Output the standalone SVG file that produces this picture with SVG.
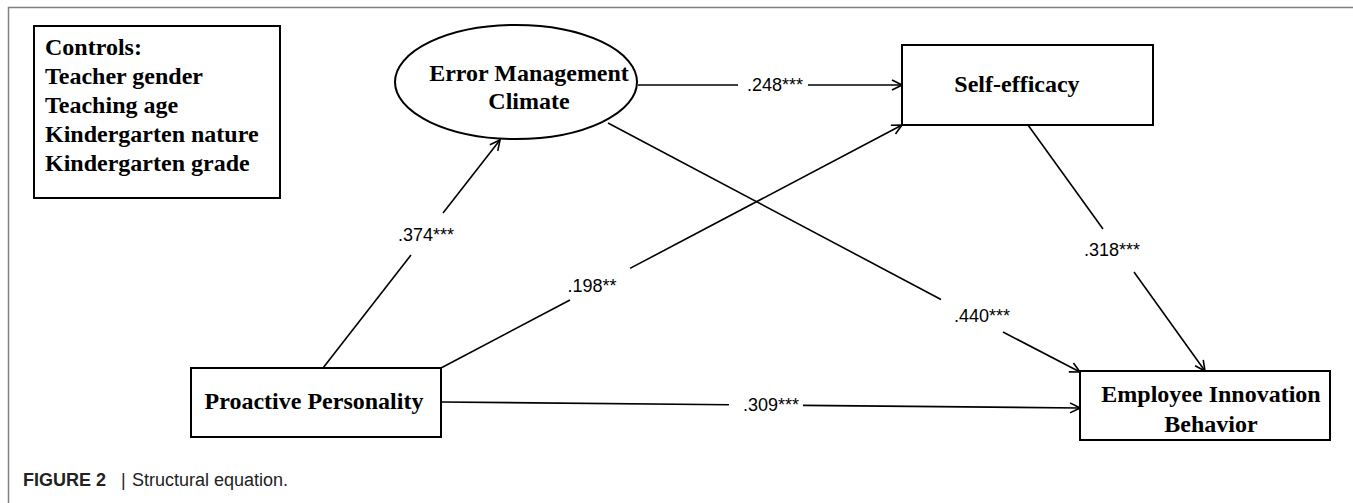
<svg xmlns="http://www.w3.org/2000/svg" width="1353" height="503" viewBox="0 0 1353 503">
<style>
.node{fill:#fff;stroke:#000;stroke-width:2}
.nt{font-family:"Liberation Serif","Times New Roman",serif;font-weight:bold;font-size:24px;fill:#000}
.lbl{font-family:"Liberation Sans",Arial,sans-serif;font-size:18px;fill:#000;text-anchor:middle}
.edge{stroke:#000;stroke-width:1.6;fill:none}
.frame{stroke:#808080;stroke-width:1.5;fill:none}
.cap{font-family:"Liberation Sans",Arial,sans-serif;font-size:18px;fill:#222}
</style>
<defs>
<marker id="arr" viewBox="0 0 12 12" refX="11" refY="6" markerWidth="12" markerHeight="12" markerUnits="userSpaceOnUse" orient="auto">
<path d="M1,1 L11,6 L1,11" fill="none" stroke="#000" stroke-width="1.6"/>
</marker>
</defs>
<rect width="1353" height="503" fill="#fff"/>
<path class="frame" d="M1353,7.5 H8.5 V503"/>

<g id="controls">
<rect class="node" x="34" y="26" width="246" height="172"/>
<text class="nt" x="45" y="55">Controls:</text>
<text class="nt" x="45" y="84">Teacher gender</text>
<text class="nt" x="45" y="113">Teaching age</text>
<text class="nt" x="45" y="142">Kindergarten nature</text>
<text class="nt" x="45" y="171">Kindergarten grade</text>
</g>

<g id="emc">
<ellipse class="node" cx="516" cy="82" rx="121" ry="57"/>
<text class="nt" x="529" y="81" text-anchor="middle">Error Management</text>
<text class="nt" x="529" y="109" text-anchor="middle">Climate</text>
</g>

<g id="selfeff">
<rect class="node" x="902" y="45" width="251" height="80"/>
<text class="nt" x="1017" y="92" text-anchor="middle">Self-efficacy</text>
</g>

<g id="proactive">
<rect class="node" x="191" y="368" width="250" height="69"/>
<text class="nt" x="314" y="409" text-anchor="middle">Proactive Personality</text>
</g>

<g id="eib">
<rect class="node" x="1080" y="371" width="250" height="69"/>
<text class="nt" x="1211" y="402" text-anchor="middle">Employee Innovation</text>
<text class="nt" x="1211" y="432" text-anchor="middle">Behavior</text>
</g>

<g id="connectors">
<line class="edge" x1="323" y1="368" x2="411" y2="255"/>
<line class="edge" x1="443" y1="213" x2="500" y2="140" marker-end="url(#arr)"/>
<text class="lbl" x="426" y="241">.374***</text>

<line class="edge" x1="638" y1="85" x2="738" y2="85"/>
<line class="edge" x1="808" y1="85" x2="902" y2="85" marker-end="url(#arr)"/>
<text class="lbl" x="775" y="91">.248***</text>

<line class="edge" x1="441" y1="368" x2="570" y2="300"/>
<line class="edge" x1="630" y1="268.4" x2="902" y2="125" marker-end="url(#arr)"/>
<text class="lbl" x="592" y="292">.198**</text>

<line class="edge" x1="608" y1="123" x2="941" y2="299.5"/>
<line class="edge" x1="1003" y1="332" x2="1080" y2="372" marker-end="url(#arr)"/>
<text class="lbl" x="982" y="322">.440***</text>

<line class="edge" x1="1028" y1="125" x2="1103" y2="229"/>
<line class="edge" x1="1134" y1="272" x2="1205" y2="371" marker-end="url(#arr)"/>
<text class="lbl" x="1112" y="256">.318***</text>

<line class="edge" x1="441" y1="402" x2="729" y2="404.7"/>
<line class="edge" x1="803" y1="405.4" x2="1080" y2="408" marker-end="url(#arr)"/>
<text class="lbl" x="771" y="411">.309***</text>
</g>

<g id="caption">
<text class="cap" x="23" y="486" font-weight="bold">FIGURE 2</text>
<text class="cap" x="121" y="486">|</text>
<text class="cap" x="132" y="486">Structural equation.</text>
</g>
</svg>
